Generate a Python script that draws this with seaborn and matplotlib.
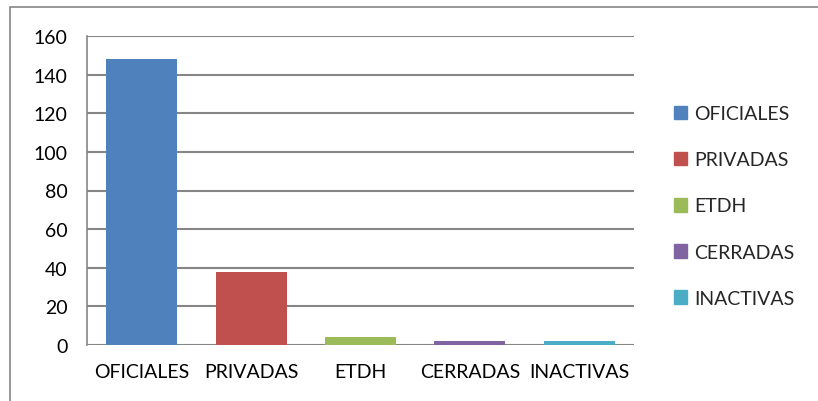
import pandas as pd
import matplotlib.pyplot as plt
import seaborn as sns
from matplotlib.patches import Rectangle

# datos
categorias = ["OFICIALES", "PRIVADAS", "ETDH", "CERRADAS", "INACTIVAS"]
valores = [148, 38, 4, 2, 2]
colores = ["#4F81BD", "#C0504D", "#9BBB59", "#8064A2", "#4BACC6"]
yticks = [0, 20, 40, 60, 80, 100, 120, 140, 160]

df = pd.DataFrame({"tipo": categorias, "cantidad": valores})

sns.set_style("white")
plt.rcParams['font.family'] = ['Lato', 'DejaVu Sans']

fig = plt.figure(figsize=(8.18, 4.02), dpi=100)
ax = fig.add_axes([87 / 818, 56 / 402, (634 - 87) / 818, 309 / 402])

sns.barplot(data=df, x="tipo", y="cantidad", hue="tipo", palette=colores,
            width=0.65, dodge=False, saturation=1, linewidth=0, ax=ax, zorder=3)

ax.set_ylim(0, 160)
ax.set_yticks(yticks)
ax.yaxis.grid(True, color="#868686", linewidth=1.5, zorder=0)
ax.set_axisbelow(True)
ax.set_xlabel("")
ax.set_ylabel("")
for s in ["top", "right", "bottom"]:
    ax.spines[s].set_visible(False)
ax.spines["left"].set_color("#868686")
ax.spines["left"].set_linewidth(1.2)
ax.tick_params(axis="both", length=0, labelsize=14, colors="black")
ax.tick_params(axis="x", pad=13)
ax.tick_params(axis="y", pad=14)

handles = [plt.Rectangle((0, 0), 1, 1, color=c) for c in colores]
ax.legend(handles, categorias, loc="center left", bbox_to_anchor=(674 / 818, 195 / 402),
          bbox_transform=fig.transFigure, frameon=False, fontsize=14,
          handlelength=0.65, handleheight=0.7, handletextpad=0.4,
          labelspacing=1.5, borderaxespad=0, borderpad=0)

# borde exterior
fig.patches.append(Rectangle((10 / 818, -0.1), 1.2, (402 - 8) / 402 + 0.1,
                             transform=fig.transFigure, fill=False,
                             edgecolor="#868686", linewidth=1.2))

plt.savefig("out.png", dpi=100)
